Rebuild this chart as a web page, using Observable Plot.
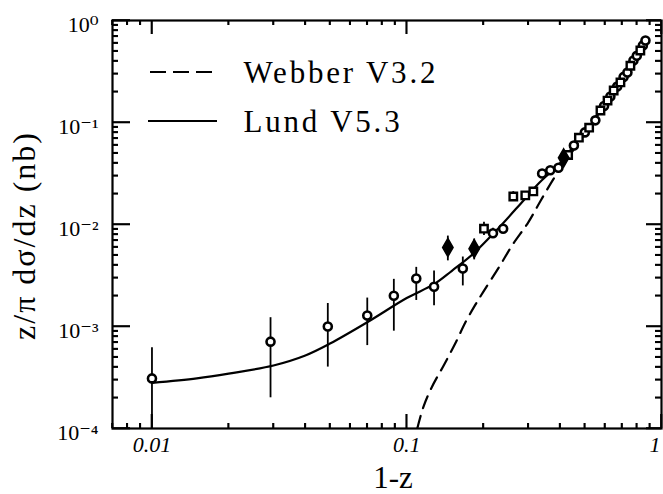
<!DOCTYPE html>
<html><head><meta charset="utf-8">
<script src="https://cdn.jsdelivr.net/npm/d3@7"></script>
<script src="https://cdn.jsdelivr.net/npm/@observablehq/plot@0.6"></script>
<style>
body{margin:0;background:#fff;}
</style>
</head><body><div id="chart"></div>
<script>
// ---- data ----
const pointX = [0.01,0.0292,0.049,0.07,0.089,0.109,0.128,0.145,0.166,0.184,0.201,0.218,0.239,0.262,0.292,0.314,0.34,0.366,0.394,0.413,0.43,0.453,0.474,0.50,0.52,0.55,0.576,0.595,0.614,0.63,0.649,0.67,0.69,0.71,0.735,0.755,0.776,0.80,0.826,0.845,0.865];
const pointY = [3.1e-4,7.1e-4,1.0e-3,1.28e-3,2.0e-3,2.96e-3,2.45e-3,5.95e-3,3.7e-3,5.8e-3,9.1e-3,8.2e-3,9.1e-3,0.0188,0.0193,0.0211,0.0316,0.034,0.036,0.045,0.048,0.0595,0.071,0.08,0.089,0.105,0.131,0.145,0.164,0.18,0.206,0.225,0.247,0.28,0.309,0.36,0.405,0.45,0.508,0.57,0.637];
const pointLo = [5e-5,2.0e-4,4.0e-4,6.5e-4,9e-4,1.8e-3,1.6e-3,4.4e-3,2.5e-3,4.5e-3,7.8e-3,7.3e-3,8.2e-3,0.017,0.0175,0.019,0.029,0.031,0.033,0.041,0.044,0.055,0.066,0.074,0.083,0.098,0.123,0.136,0.154,0.17,0.195,0.213,0.235,0.266,0.295,0.344,0.388,0.432,0.49,0.55,0.615];
const pointHi = [6.2e-4,1.22e-3,1.68e-3,1.9e-3,2.9e-3,3.8e-3,3.5e-3,7.7e-3,4.8e-3,7.2e-3,1.05e-2,9.2e-3,1.0e-2,0.021,0.021,0.023,0.034,0.037,0.039,0.049,0.052,0.064,0.076,0.086,0.095,0.112,0.139,0.154,0.174,0.19,0.217,0.237,0.259,0.294,0.323,0.376,0.422,0.468,0.526,0.59,0.659];
const pointKind = ["c","c","c","c","c","c","c","f","c","f","s","c","c","s","s","s","c","c","c","f","s","c","s","c","s","c","s","c","s","c","s","c","s","c","c","s","c","c","s","c","c"];

const lundX = [0.01,0.015,0.02,0.03,0.04,0.05,0.07,0.1,0.128,0.15,0.183,0.23,0.28,0.33,0.4,0.45,0.5,0.6,0.7,0.8,0.88];
const lundY = [2.8e-4,3.1e-4,3.45e-4,4.15e-4,5.2e-4,6.8e-4,1.1e-3,1.9e-3,2.6e-3,3.5e-3,5.2e-3,9.3e-3,0.016,0.0254,0.04,0.058,0.08,0.15,0.26,0.43,0.66];

const webX = [0.11,0.116,0.125,0.14,0.155,0.17,0.185,0.2,0.23,0.26,0.3,0.335,0.377,0.42,0.47,0.55,0.65,0.75,0.85];
const webY = [1.0e-4,1.6e-4,2.5e-4,4.2e-4,6.8e-4,1.1e-3,1.6e-3,2.2e-3,3.8e-3,6.3e-3,0.0105,0.017,0.028,0.042,0.062,0.11,0.2,0.33,0.55];

const xMajor = [0.01,0.1,1];
const xMinor = [0.007,0.008,0.009,0.02,0.03,0.04,0.05,0.06,0.07,0.08,0.09,0.2,0.3,0.4,0.5,0.6,0.7,0.8,0.9];
const xLabels = [0.01,0.05,0.1,0.5,1];
const yMajor = [1e-4,1e-3,1e-2,1e-1,1];
const yMinor = [-4,-3,-2,-1].flatMap(k => [2,3,4,5,6,7,8,9].map(m => +(m*Math.pow(10,k)).toPrecision(3)));

const legendNames = ["Webber V3.2","Lund V5.3"];
const yTitle = "z/π dσ/dz (nb)";
const xTitle = "1-z";

// ---- build ----
const W = 663, H = 494, ML = 112, MR = 2, MT = 20, MB = 66;
const FW = W - ML - MR, FH = H - MT - MB;
const points = pointX.map((x,i)=>({x, y:pointY[i], lo:pointLo[i], hi:pointHi[i], k:pointKind[i]}));
const lund = lundX.map((x,i)=>({x, y:lundY[i]}));
const web = webX.map((x,i)=>({x, y:webY[i]}));
const supMap = {"-":"⁻","0":"⁰","1":"¹","2":"²","3":"³","4":"⁴"};
const sup = d => "10" + String(Math.round(Math.log10(d))).split("").map(c=>supMap[c]).join("");
const tk = {stroke:"black", strokeWidth:1.6};

const plot = Plot.plot({
  width: W, height: H,
  marginLeft: ML, marginRight: MR, marginTop: MT, marginBottom: MB,
  style: {fontFamily: "'Liberation Serif', 'DejaVu Serif', serif", color: "black", background: "white"},
  x: {type:"log", domain:[0.007,1], axis:null},
  y: {type:"log", domain:[1e-4,1], axis:null},
  marks: [
    // inward ticks on all four sides
    Plot.ruleX(xMajor, {x:d=>d, insetTop:FH-14, ...tk}),
    Plot.ruleX(xMinor, {x:d=>d, insetTop:FH-5, ...tk}),
    Plot.ruleX(xMajor, {x:d=>d, insetBottom:FH-14, ...tk}),
    Plot.ruleX(xMinor, {x:d=>d, insetBottom:FH-5, ...tk}),
    Plot.ruleY(yMajor, {y:d=>d, insetRight:FW-18, ...tk}),
    Plot.ruleY(yMinor, {y:d=>d, insetRight:FW-6, ...tk}),
    Plot.ruleY(yMajor, {y:d=>d, insetLeft:FW-15, ...tk}),
    Plot.ruleY(yMinor, {y:d=>d, insetLeft:FW-6, ...tk}),
    Plot.line(web, {x:"x", y:"y", stroke:"black", strokeWidth:2.2, strokeDasharray:"13,8", curve:"catmull-rom", clip:true}),
    Plot.line(lund, {x:"x", y:"y", stroke:"black", strokeWidth:2.2, curve:"catmull-rom", clip:true}),
    Plot.ruleX(points, {x:"x", y1:"lo", y2:"hi", stroke:"black", strokeWidth:1.8, clip:true}),
    Plot.dot(points.filter(d=>d.k==="c"), {x:"x", y:"y", r:4, stroke:"black", strokeWidth:2.6, fill:"white"}),
    Plot.dot(points.filter(d=>d.k==="s"), {x:"x", y:"y", r:4.2, symbol:"square", stroke:"black", strokeWidth:2.4, fill:"white"}),
    Plot.dot(points.filter(d=>d.k==="f"), {x:"x", y:"y", r:5.5, symbol:"diamond", stroke:"black", strokeWidth:1.5, fill:"black"}),
    // tick labels
    Plot.axisX({anchor:"bottom", ticks:xLabels, tickSize:0, tickPadding:8, tickFormat:d=>String(d), label:null, fontSize:22, fontStyle:"italic"}),
    Plot.axisY({anchor:"left", ticks:yMajor, tickSize:0, tickPadding:14, tickFormat:sup, label:null, fontSize:22, dy:4}),
    Plot.frame({stroke:"black", strokeWidth:2.2}),
    // titles
    Plot.text([yTitle], {frameAnchor:"left", rotate:-90, textAnchor:"middle", lineAnchor:"middle", dx:-88, dy:11, fontSize:32, fill:"black"}),
    Plot.text([xTitle], {frameAnchor:"bottom", textAnchor:"middle", lineAnchor:"middle", dx:6, dy:50, fontSize:31, fill:"black"}),
    // legend text
    Plot.text([legendNames[0]], {frameAnchor:"top-left", dx:131, dy:53, textAnchor:"start", lineAnchor:"middle", fontSize:31, fill:"black"}),
    Plot.text([legendNames[1]], {frameAnchor:"top-left", dx:131, dy:102, textAnchor:"start", lineAnchor:"middle", fontSize:31, fill:"black"})
  ]
});
document.getElementById("chart").appendChild(plot);

const svg = d3.select(plot);
const sx = plot.scale("x"), sy = plot.scale("y");
// extra tick layer drawn from Plot's own scales (guarantees visibility on top)
const tg = svg.append("g").attr("stroke","black").attr("stroke-width",1.6);
const xb = H - MB, xt = MT, yl = ML, yr = W - MR;
xMajor.forEach(v => { const px = sx.apply(v);
  tg.append("line").attr("x1",px).attr("x2",px).attr("y1",xb).attr("y2",xb-14);
  tg.append("line").attr("x1",px).attr("x2",px).attr("y1",xt).attr("y2",xt+14); });
xMinor.forEach(v => { const px = sx.apply(v);
  tg.append("line").attr("x1",px).attr("x2",px).attr("y1",xb).attr("y2",xb-5);
  tg.append("line").attr("x1",px).attr("x2",px).attr("y1",xt).attr("y2",xt+5); });
yMajor.forEach(v => { const py = sy.apply(v);
  tg.append("line").attr("x1",yl).attr("x2",yl+18).attr("y1",py).attr("y2",py);
  tg.append("line").attr("x1",yr).attr("x2",yr-15).attr("y1",py).attr("y2",py); });
yMinor.forEach(v => { const py = sy.apply(v);
  tg.append("line").attr("x1",yl).attr("x2",yl+6).attr("y1",py).attr("y2",py);
  tg.append("line").attr("x1",yr).attr("x2",yr-6).attr("y1",py).attr("y2",py); });

// wider letter spacing as in the scan
svg.selectAll("text").filter(function(){ return legendNames.includes(this.textContent); }).style("letter-spacing","2.8px");
svg.selectAll("text").filter(function(){ return this.textContent === yTitle; }).style("letter-spacing","2px");
// keep the "1" label inside the picture
svg.selectAll("text").filter(function(){ return this.textContent === "1"; }).attr("text-anchor","end").attr("dx","-1");
// legend line samples (positions relative to the frame)
svg.append("line").attr("x1", ML+38).attr("x2", ML+107).attr("y1", MT+52).attr("y2", MT+52)
  .attr("stroke","black").attr("stroke-width",2.2).attr("stroke-dasharray","16,7");
svg.append("line").attr("x1", ML+36).attr("x2", ML+105).attr("y1", MT+101).attr("y2", MT+101)
  .attr("stroke","black").attr("stroke-width",2.2);
</script>
</body></html>
